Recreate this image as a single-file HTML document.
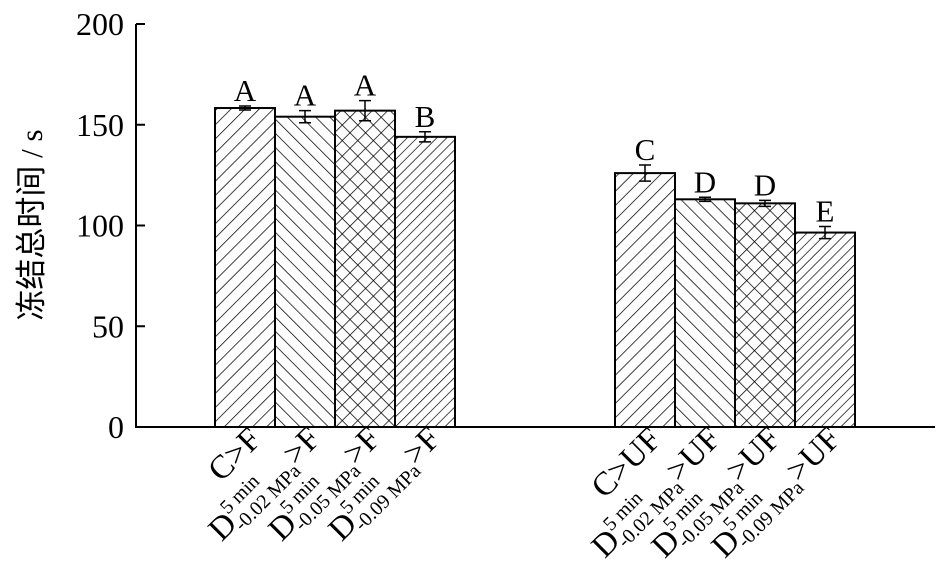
<!DOCTYPE html>
<html><head><meta charset="utf-8"><style>
html,body{margin:0;padding:0;background:#fff}
svg{display:block;font-family:"Liberation Serif","Noto Serif CJK SC",serif}
</style></head><body>
<svg width="946" height="579" viewBox="0 0 946 579">
<defs>
<pattern id="p1" patternUnits="userSpaceOnUse" width="10" height="10" patternTransform="rotate(45)"><line x1="0" y1="0" x2="0" y2="10" stroke="#000" stroke-width="1.5"/></pattern>
<pattern id="p2" patternUnits="userSpaceOnUse" width="10" height="10" patternTransform="rotate(-45)"><line x1="0" y1="0" x2="0" y2="10" stroke="#000" stroke-width="1.5"/></pattern>
<pattern id="p3" patternUnits="userSpaceOnUse" width="11" height="11" patternTransform="rotate(45)"><line x1="0" y1="0" x2="0" y2="11" stroke="#000" stroke-width="1.5"/><line x1="0" y1="0" x2="11" y2="0" stroke="#000" stroke-width="1.5"/></pattern>
<pattern id="p4" patternUnits="userSpaceOnUse" width="7" height="7" patternTransform="rotate(45)"><line x1="0" y1="0" x2="0" y2="7" stroke="#000" stroke-width="1.4"/></pattern>
</defs>
<g id="plot"></g>
<text transform="translate(42,225) rotate(-90)" text-anchor="middle" font-size="31" font-family="Liberation Serif, Noto Sans CJK SC, sans-serif">冻结总时间 / s</text>
</svg>
<script>
const categories=["C>F","D-0.02>F","D-0.05>F","D-0.09>F","C>UF","D-0.02>UF","D-0.05>UF","D-0.09>UF"];
const values=[158.3,154,157,144,126,113,111,96.5];
const errors=[1,3,5,2.5,4,1,1.5,3];
const letters=["A","A","A","B","C","D","D","E"];
const yTicks=[0,50,100,150,200];
const NS="http://www.w3.org/2000/svg";
const g=document.getElementById('plot');
const x0=136,y0=427,k=403/200;
const y=v=>y0-v*k;
const barX=i=>(i<4?215:615)+(i%4)*60;
function el(t,a,p){const e=document.createElementNS(NS,t);for(const n in a)e.setAttribute(n,a[n]);(p||g).appendChild(e);return e;}
const ax=el('line',{x1:x0,y1:y0,x2:935,y2:y0,stroke:'#000','stroke-width':2});


const ay=el('line',{x1:x0,y1:y0+1,x2:x0,y2:y(200),stroke:'#000','stroke-width':2});


yTicks.forEach(t=>{
 const l=el('line',{x1:x0,y1:y(t),x2:x0+9,y2:y(t),stroke:'#000','stroke-width':2});
 
 
 const tx=el('text',{x:x0-12,y:y(t)+11,'text-anchor':'end','font-size':32});
 tx.textContent=t;
 
 
});
const pats=['p1','p2','p3','p4'];
const pres=["","-0.02 MPa","-0.05 MPa","-0.09 MPa"];
values.forEach((v,i)=>{
 const bx=barX(i);
 const r=el('rect',{x:bx,y:y(v),width:60,height:y0-y(v),fill:'url(#'+pats[i%4]+')',stroke:'#000','stroke-width':2});
 
 
 const cx=bx+30,e=errors[i];
 const eb=el('path',{d:`M${cx-6} ${y(v+e)}H${cx+6}M${cx} ${y(v+e)}V${y(v-e)}M${cx-6} ${y(v-e)}H${cx+6}`,stroke:'#000','stroke-width':1.5,fill:'none'});
 
 
 const lt=el('text',{x:cx,y:y(v+e)-5,'text-anchor':'middle','font-size':31});
 lt.textContent=letters[i];
 
 
 const suf=i<4?"F":"UF";
 const t=el('text',{transform:`translate(${cx+18},${y0+14}) rotate(-45)`,'text-anchor':'end','font-size':33});
 
 
 if(i%4===0){t.textContent="C>"+suf;}
 else{
  const a=document.createElementNS(NS,'tspan');a.textContent="D";t.appendChild(a);
  const b=document.createElementNS(NS,'tspan');b.setAttribute('font-size','20');b.setAttribute('dy','-15');b.textContent="5 min";t.appendChild(b);
  const c=document.createElementNS(NS,'tspan');c.setAttribute('font-size','20');c.setAttribute('dy','22');c.setAttribute('dx','-48');c.textContent=pres[i%4];t.appendChild(c);
  const d=document.createElementNS(NS,'tspan');d.setAttribute('dy','-8');d.textContent=">"+suf;t.appendChild(d);
 }
});
</script>
</body></html>
